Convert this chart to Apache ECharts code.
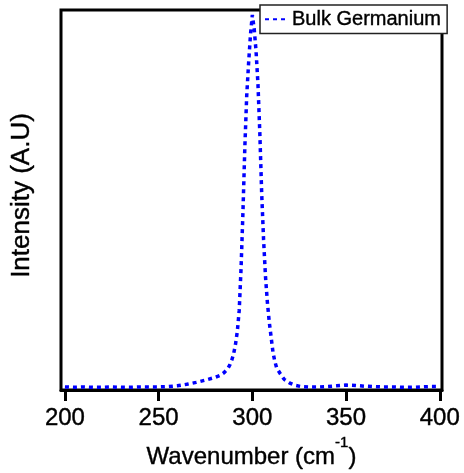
<!DOCTYPE html>
<html>
<head>
<meta charset="utf-8">
<script src="https://cdn.jsdelivr.net/npm/echarts@6/dist/echarts.min.js"></script>
<style>
  html, body { margin: 0; padding: 0; background: #fff; }
  #chart { width: 464px; height: 473px; }
</style>
</head>
<body>
<div id="chart"></div>
<script>
// Raman spectrum, values (intensity normalised 0..1)
var wavenumber = [200, 205, 210, 215, 220, 225, 230, 235, 240, 245, 250, 255, 260, 265, 270, 275, 280, 283, 285, 287, 288, 289, 290, 291, 292, 293, 294, 295, 296, 297, 298, 299, 300, 301, 302, 303, 304, 305, 306, 307, 308, 309, 310, 311, 312, 313, 315, 317, 320, 323, 326, 330, 335, 340, 345, 350, 355, 360, 365, 370, 375, 380, 385, 390, 395, 400]
var intensity = [0.008, 0.007, 0.008, 0.007, 0.007, 0.008, 0.007, 0.007, 0.008, 0.008, 0.008, 0.009, 0.011, 0.015, 0.020, 0.026, 0.033, 0.039, 0.046, 0.057, 0.066, 0.078, 0.095, 0.120, 0.155, 0.210, 0.323, 0.470, 0.640, 0.775, 0.860, 0.935, 0.987, 0.950, 0.890, 0.805, 0.675, 0.515, 0.395, 0.300, 0.232, 0.180, 0.140, 0.100, 0.075, 0.058, 0.042, 0.028, 0.018, 0.012, 0.009, 0.008, 0.008, 0.009, 0.011, 0.013, 0.012, 0.010, 0.009, 0.008, 0.008, 0.007, 0.007, 0.008, 0.009, 0.009]
var xTicks = [200, 250, 300, 350, 400]
var seriesName = 'Bulk Germanium'

var font = '"Liberation Sans", Arial, Helvetica, sans-serif'
// thin outline in the text colour makes the glyphs a bit heavier
var heavy = { textBorderColor: '#000', textBorderWidth: 0.4 }

var chart = echarts.init(document.getElementById('chart'))

var option = {
    animation: false,
    grid: {
        left: 61,
        right: 22,
        top: 10,
        bottom: 83,
        outerBoundsMode: 'none',
        containLabel: false,
        show: true,
        borderColor: '#000',
        borderWidth: 3,
        backgroundColor: '#fff'
    },
    legend: {
        data: [seriesName],
        left: 260,
        top: 5,
        padding: [4, 6, 4, 4],
        itemWidth: 22,
        itemHeight: 10,
        itemGap: 0,
        backgroundColor: '#fff',
        borderColor: '#222',
        borderWidth: 1.5,
        itemStyle: { color: 'transparent', borderWidth: 0 },
        textStyle: Object.assign({ fontFamily: font, fontSize: 20, color: '#000', padding: [0, 0, 0, 0] }, heavy)
    },
    xAxis: {
        type: 'value',
        min: 197.9,
        max: 401.2,
        name: 'Wavenumber (cm{sup|-1})',
        nameLocation: 'middle',
        nameGap: 42,
        nameTextStyle: Object.assign({
            fontFamily: font,
            fontSize: 24,
            color: '#000',
            rich: {
                sup: Object.assign({ fontFamily: font, fontSize: 15, lineHeight: 15, padding: [0, 0, 30, 0], color: '#000' }, heavy)
            }
        }, heavy),
        splitLine: { show: false },
        axisLine: { show: true, onZero: false, lineStyle: { color: '#000', width: 3 } },
        axisTick: { show: true, length: 11, customValues: xTicks, lineStyle: { color: '#000', width: 3 } },
        axisLabel: Object.assign({ customValues: xTicks, fontFamily: font, fontSize: 24, color: '#000', margin: 16 }, heavy)
    },
    yAxis: {
        type: 'value',
        min: 0,
        max: 1,
        name: 'Intensity (A.U)',
        nameLocation: 'middle',
        nameGap: 26,
        nameTextStyle: Object.assign({ fontFamily: font, fontSize: 26, color: '#000', padding: [0, 0, 0, 9] }, heavy),
        splitLine: { show: false },
        axisLine: { show: false },
        axisTick: { show: false },
        axisLabel: { show: false }
    },
    series: [{
        name: seriesName,
        type: 'line',
        symbol: 'none',
        smooth: false,
        data: wavenumber.map(function (w, i) { return [w, intensity[i]] }),
        lineStyle: { color: '#0000ff', width: 3.5, type: [4, 4], cap: 'butt' },
        itemStyle: { color: '#0000ff' }
    }]
}

chart.setOption(option)
</script>
</body>
</html>
